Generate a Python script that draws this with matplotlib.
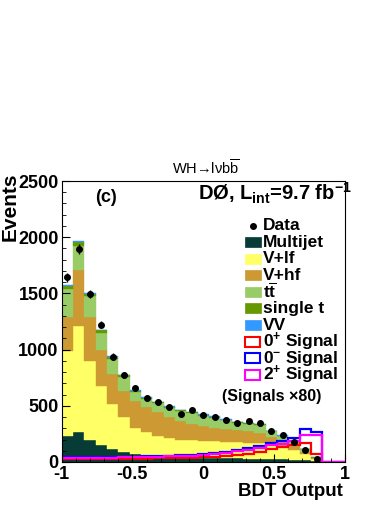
import numpy as np
import matplotlib
matplotlib.use('Agg')
import matplotlib.pyplot as plt
from matplotlib.patches import Rectangle
from matplotlib.lines import Line2D

# ─── Données ──────────────────────────────────────────────
BIN_EDGES = np.linspace(-1.0, 1.0, 26)   # 25 bins de 0.08

multijet = [231, 269, 195, 155, 118, 90, 68, 58, 52, 47, 43, 40, 38, 36, 34, 32, 30, 28, 26, 24, 20, 14, 6, 0, 0]
v_lf     = [759, 941, 703, 522, 396, 307, 235, 205, 178, 165, 157, 155, 152, 149, 148, 146, 142, 137, 124, 111, 90, 56, 22, 0, 0]
v_hf     = [304, 502, 396, 319, 272, 233, 237, 229, 211, 188, 168, 145, 128, 120, 113, 107, 103, 90, 75, 60, 35, 15, 5, 0, 0]
ttbar    = [248, 212, 179, 156, 134, 128, 85, 70, 81, 82, 85, 93, 95, 89, 75, 64, 64, 74, 47, 35, 29, 28, 7, 0, 0]
single_t = [25, 30, 25, 20, 15, 12, 10, 10, 9, 9, 8, 8, 8, 7, 7, 6, 6, 6, 5, 5, 4, 3, 2, 0, 0]
diboson  = [8, 8, 7, 6, 5, 5, 5, 4, 4, 4, 4, 4, 4, 4, 3, 3, 3, 3, 3, 3, 2, 2, 1, 0, 0]

data = [1643, 1894, 1495, 1223, 935, 776, 657, 569, 530, 490, 427, 465, 421, 403, 377, 350, 368, 350, 277, 241, 176, 111, 30, 0, 0]

sig_0p = [26, 27, 28, 28, 29, 29, 30, 31, 32, 33, 35, 38, 42, 46, 50, 62, 75, 90, 112, 135, 155, 165, 74, 0, 0]
sig_0m = [42, 43, 44, 45, 46, 47, 48, 50, 52, 55, 58, 62, 68, 78, 92, 105, 122, 140, 165, 185, 210, 290, 268, 0, 0]
sig_2p = [36, 37, 38, 39, 40, 41, 42, 44, 46, 49, 52, 55, 58, 68, 82, 95, 110, 125, 148, 163, 185, 240, 237, 0, 0]

BKG = [
    ('Multijet', multijet, '#073b35'),
    ('V+lf',     v_lf,     '#ffff66'),
    ('V+hf',     v_hf,     '#cc9933'),
    (r't$\overline{\mathbf{t}}$', ttbar, '#99cc66'),
    ('single t', single_t, '#669900'),
    ('VV',       diboson,  '#3399ff'),
]
SIGNALS = [
    (r'0$^{\mathbf{+}}$ Signal', sig_0p, '#ff0000'),
    (r'0$^{\mathbf{-}}$ Signal', sig_0m, '#0000ff'),
    (r'2$^{\mathbf{+}}$ Signal', sig_2p, '#ff00ff'),
]
# ──────────────────────────────────────────────────────────

plt.rcParams['font.family'] = ['Liberation Sans', 'DejaVu Sans']
plt.rcParams['mathtext.fontset'] = 'custom'
plt.rcParams['mathtext.rm'] = 'Liberation Sans'
plt.rcParams['mathtext.it'] = 'Liberation Sans:italic'
plt.rcParams['mathtext.bf'] = 'Liberation Sans:bold'

W, H = 390, 505
def fx(x):
    return x / W
def fy(y):
    return 1 - y / H

fig = plt.figure(figsize=(W / 100, H / 100), dpi=100)
ax = fig.add_axes([fx(61.5), fy(462), (345 - 61.5) / W, (462 - 181) / H])

width = np.diff(BIN_EDGES)
left = BIN_EDGES[:-1]
bottom = np.zeros(len(left))
for name, vals, col in BKG:
    vals = np.array(vals, dtype=float)
    ax.bar(left, vals, width=width, bottom=bottom, align='edge',
           color=col, edgecolor=col, linewidth=0.3)
    bottom += vals

for name, vals, col in SIGNALS:
    ax.stairs(vals, BIN_EDGES, color=col, linewidth=1.6, baseline=None)

centers = 0.5 * (BIN_EDGES[:-1] + BIN_EDGES[1:])
d = np.array(data, dtype=float)
m = d > 0
ax.errorbar(centers[m], d[m], yerr=np.sqrt(d[m]), fmt='o', color='black',
            ms=4, elinewidth=1.0, capsize=0)

ax.set_xlim(-1, 1)
ax.set_ylim(0, 2500)
ax.set_xticks([-1, -0.5, 0, 0.5, 1])
ax.set_xticklabels(['-1', '-0.5', '0', '0.5', '1'])
ax.set_xticks(np.arange(-1, 1.001, 0.1), minor=True)
ax.set_yticks(np.arange(0, 2501, 500))
ax.set_yticks(np.arange(0, 2501, 100), minor=True)
ax.tick_params(which='both', direction='in', top=False, right=False)
ax.tick_params(which='major', length=6, width=0.8, labelsize=13)
ax.tick_params(which='minor', length=3, width=0.6)
ax.tick_params(axis='x', which='major', pad=3)
ax.tick_params(axis='y', which='major', pad=2)
for lab in ax.get_xticklabels() + ax.get_yticklabels():
    lab.set_fontweight('bold')
for sp in ax.spines.values():
    sp.set_linewidth(0.8)

# ─── Textes ───────────────────────────────────────────────
fig.text(fx(10), fy(172), 'Events', rotation=90, ha='center', va='top',
         fontsize=15, fontweight='bold')
fig.text(fx(343), fy(496), 'BDT Output', ha='right', va='baseline',
         fontsize=13.5, fontweight='bold')
fig.text(fx(206), fy(175), r'WH→lνb$\overline{\rm b}$', ha='center', va='baseline',
         fontsize=10.5)
fig.text(fx(106), fy(198), '(c)', ha='center', va='center',
         fontsize=13, fontweight='bold')
fig.text(fx(198), fy(200), r'DØ, L$_{\mathbf{int}}$=9.7 fb$^{\mathbf{-1}}$',
         ha='left', va='baseline', fontsize=14.5, fontweight='bold')

# ─── Légende ──────────────────────────────────────────────
rows = [226, 242, 258.5, 275, 291.5, 308, 325, 341.5, 358, 375]
fig.add_artist(Line2D([fx(253)], [fy(rows[0])], marker='o', color='black',
                      ms=4, transform=fig.transFigure))
fig.text(fx(263), fy(rows[0]), 'Data', ha='left', va='center',
         fontsize=12.5, fontweight='bold')
for (name, vals, col), yc in zip(BKG, rows[1:7]):
    fig.add_artist(Rectangle((fx(245), fy(yc + 5)), 16 / W, 10 / H,
                             facecolor=col, edgecolor=col, linewidth=0.5,
                             transform=fig.transFigure))
    fig.text(fx(263), fy(yc), name, ha='left', va='center',
             fontsize=12.5, fontweight='bold')
for (name, vals, col), yc in zip(SIGNALS, rows[7:]):
    fig.add_artist(Rectangle((fx(245), fy(yc + 5)), 15 / W, 10 / H,
                             facecolor='white', edgecolor=col, linewidth=1.5,
                             transform=fig.transFigure))
    fig.text(fx(263), fy(yc), name, ha='left', va='center',
             fontsize=12.5, fontweight='bold')
fig.text(fx(272), fy(397), '(Signals ×80)', ha='center', va='center',
         fontsize=11.5, fontweight='bold')

fig.savefig('out.png', dpi=100)
